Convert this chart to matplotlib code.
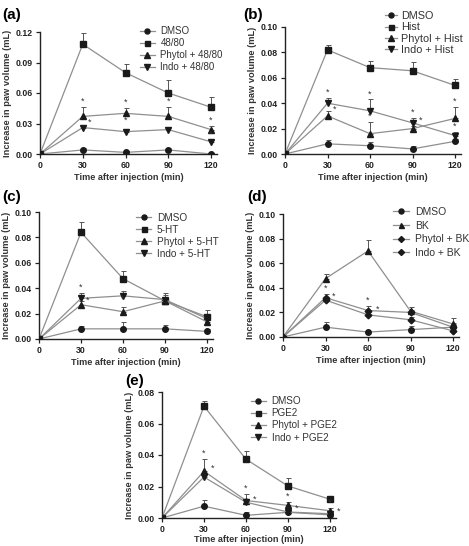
import matplotlib
matplotlib.use("Agg")
import matplotlib.pyplot as plt
import numpy as np

plt.rcParams['font.family'] = ['Liberation Sans', 'DejaVu Sans']

times = [0, 30, 60, 90, 120]
xticks = [0, 30, 60, 90, 120]
xlabel = "Time after injection (min)"
ylabel = "Increase in paw volume (mL)"

# ---- panel (a)
a_labels = ["DMSO", "48/80", "Phytol + 48/80", "Indo + 48/80"]
a_dmso = [0, 0.004, 0.0016, 0.004, 0.0]
a_dmso_err = [0, 0.002, 0.001, 0.002, 0.001]
a_drug = [0, 0.108, 0.080, 0.060, 0.046]
a_drug_err = [0, 0.011, 0.009, 0.013, 0.010]
a_phyt = [0, 0.037, 0.040, 0.037, 0.024]
a_phyt_err = [0, 0.009, 0.005, 0.009, 0.004]
a_indo = [0, 0.026, 0.022, 0.024, 0.012]
a_indo_err = [0, 0.003, 0.003, 0.003, 0.002]
a_yticks = [0.00, 0.03, 0.06, 0.09, 0.12]
a_yticklabels = ["0.00", "0.03", "0.06", "0.09", "0.12"]

# ---- panel (b)
b_labels = ["DMSO", "Hist", "Phytol + Hist", "Indo + Hist"]
b_dmso = [0, 0.008, 0.0065, 0.004, 0.010]
b_dmso_err = [0, 0.003, 0.003, 0.002, 0.002]
b_drug = [0, 0.082, 0.068, 0.0655, 0.054]
b_drug_err = [0, 0.004, 0.005, 0.007, 0.005]
b_phyt = [0, 0.030, 0.016, 0.020, 0.028]
b_phyt_err = [0, 0.004, 0.009, 0.002, 0.009]
b_indo = [0, 0.040, 0.034, 0.0245, 0.0145]
b_indo_err = [0, 0.004, 0.009, 0.004, 0.003]
b_yticks = [0.00, 0.02, 0.04, 0.06, 0.08, 0.10]
b_yticklabels = ["0.00", "0.02", "0.04", "0.06", "0.08", "0.10"]

# ---- panel (c)
c_labels = ["DMSO", "5-HT", "Phytol + 5-HT", "Indo + 5-HT"]
c_dmso = [0, 0.008, 0.008, 0.008, 0.006]
c_dmso_err = [0, 0.002, 0.005, 0.003, 0.002]
c_drug = [0, 0.084, 0.0475, 0.030, 0.0175]
c_drug_err = [0, 0.008, 0.006, 0.006, 0.005]
c_phyt = [0, 0.027, 0.0215, 0.030, 0.0135]
c_phyt_err = [0, 0.003, 0.004, 0.002, 0.003]
c_indo = [0, 0.032, 0.034, 0.031, 0.016]
c_indo_err = [0, 0.004, 0.004, 0.004, 0.003]
c_yticks = b_yticks
c_yticklabels = b_yticklabels

# ---- panel (d)
d_labels = ["DMSO", "BK", "Phytol + BK", "Indo + BK"]
d_dmso = [0, 0.008, 0.004, 0.006, 0.008]
d_dmso_err = [0, 0.004, 0.001, 0.003, 0.002]
d_drug = [0, 0.0475, 0.070, 0.021, 0.0106]
d_drug_err = [0, 0.004, 0.009, 0.003, 0.005]
d_phyt = [0, 0.032, 0.0215, 0.020, 0.008]
d_phyt_err = [0, 0.003, 0.004, 0.002, 0.003]
d_indo = [0, 0.030, 0.018, 0.014, 0.005]
d_indo_err = [0, 0.002, 0.002, 0.002, 0.002]
d_yticks = b_yticks
d_yticklabels = b_yticklabels

# ---- panel (e)
e_labels = ["DMSO", "PGE2", "Phytol + PGE2", "Indo + PGE2"]
e_dmso = [0, 0.0075, 0.0017, 0.0036, 0.002]
e_dmso_err = [0, 0.004, 0.002, 0.001, 0.001]
e_drug = [0, 0.071, 0.0373, 0.0203, 0.0119]
e_drug_err = [0, 0.003, 0.005, 0.005, 0.001]
e_phyt = [0, 0.0297, 0.0111, 0.008, 0.0046]
e_phyt_err = [0, 0.008, 0.004, 0.002, 0.002]
e_indo = [0, 0.026, 0.010, 0.0038, 0.0027]
e_indo_err = [0, 0.002, 0.002, 0.001, 0.001]
e_yticks = [0.00, 0.02, 0.04, 0.06, 0.08]
e_yticklabels = ["0.00", "0.02", "0.04", "0.06", "0.08"]

W, H = 469, 546
fig = plt.figure(figsize=(W / 100, H / 100), dpi=100)


def px_axes(x0, ytop, x120, ybot):
    width120 = x120 - x0
    wpx = width120 * 124 / 120
    return fig.add_axes([x0 / W, 1 - ybot / H, wpx / W, (ybot - ytop) / H])


LINE_C = "#8f8f8f"


def draw(ax, labels, series, errs, markers, ytop, yticks, yticklabels, leg_px,
         leg_fs, leg_sp, stars, letter, letter_xy, msizes, xlabelpad=2,
         hlen=1.5, hpad=0.6):
    handles = []
    for lab, ys, es, mk, ms in zip(labels, series, errs, markers, msizes):
        ax.errorbar(times, ys, yerr=[np.zeros(len(es)), es], fmt='none',
                    ecolor="#555555", elinewidth=0.7, capsize=1.8, capthick=0.7, zorder=2)
        h, = ax.plot(times, ys, color=LINE_C, lw=0.9, marker=mk, ms=ms,
                     mfc="#1a1a1a", mec="#1a1a1a", zorder=3, label=lab)
        handles.append(h)
    ax.set_xlim(0, 124)
    ax.set_ylim(0, ytop)
    ax.set_xticks(xticks)
    ax.set_yticks(yticks)
    ax.set_yticklabels(yticklabels)
    for s in ["top", "right"]:
        ax.spines[s].set_visible(False)
    for s in ["left", "bottom"]:
        ax.spines[s].set_linewidth(1.0)
        ax.spines[s].set_color("#222222")
    ax.tick_params(axis='both', labelsize=6.3, length=3, width=0.9, pad=2,
                   colors="#222222")
    for t in ax.get_xticklabels() + ax.get_yticklabels():
        t.set_fontweight('bold')
    ax.set_xlabel(xlabel, fontsize=6.6, fontweight='bold', color="#333333", labelpad=xlabelpad)
    ax.set_ylabel(ylabel, fontsize=6.7, fontweight='bold', color="#333333", labelpad=3)
    anchor = (leg_px[0] / W, 1 - leg_px[1] / H)
    leg = ax.legend(handles=handles, loc='upper left', bbox_to_anchor=anchor,
                    bbox_transform=fig.transFigure,
                    frameon=False, fontsize=leg_fs, handlelength=hlen, handletextpad=hpad,
                    labelspacing=leg_sp, borderaxespad=0, borderpad=0, markerscale=0.9)
    for t in leg.get_texts():
        t.set_color("#333333")
    for (x, y, dx, dy) in stars:
        ax.annotate("*", (x, y), xytext=(dx, dy), textcoords='offset points',
                    ha='center', va='center', fontsize=6.5, color="#333333")
    fig.text(letter_xy[0] / W, 1 - letter_xy[1] / H, letter, fontsize=11,
             fontweight='bold', ha='left', va='center')


def tops(vals, errs):
    return [v + e for v, e in zip(vals, errs)]


ms4 = [4, 4, 4.2, 4.2]

# (a)
ax = px_axes(40, 32, 211, 154)
pt = tops(a_phyt, a_phyt_err)
it = tops(a_indo, a_indo_err)
stars_a = [(30, pt[1], 0, 4), (30, a_indo[1], 5, 4), (60, pt[2], 0, 4), (60, a_indo[2], 0, 8),
           (90, pt[3], 0, 4), (120, pt[4], 0, 4), (120, it[4], 0, 4)]
draw(ax, a_labels, [a_dmso, a_drug, a_phyt, a_indo], [a_dmso_err, a_drug_err, a_phyt_err, a_indo_err],
     ['o', 's', '^', 'v'], 0.12, a_yticks, a_yticklabels, (140, 26), 7.0, 0.22,
     stars_a, "(a)", (2, 15), ms4)

# (b)
ax = px_axes(285, 27, 455, 154)
pt = tops(b_phyt, b_phyt_err)
it = tops(b_indo, b_indo_err)
stars_b = [(30, it[1], 0, 4), (30, b_phyt[1], 5, 5), (60, it[2], 0, 4), (60, pt[2], 0, 4),
           (90, it[3], 0, 4), (90, b_indo[3], 6, 2), (120, pt[4], 0, 4), (120, it[4], 0, 4)]
draw(ax, b_labels, [b_dmso, b_drug, b_phyt, b_indo], [b_dmso_err, b_drug_err, b_phyt_err, b_indo_err],
     ['o', 's', '^', 'v'], 0.10, b_yticks, b_yticklabels, (385, 11), 7.8, 0.12,
     stars_b, "(b)", (243, 15), ms4, hlen=1.1, hpad=0.4)

# (c)
ax = px_axes(39, 212, 207, 339)
it = tops(c_indo, c_indo_err)
stars_c = [(30, it[1], 0, 4), (30, c_phyt[1], 5, 3), (60, c_phyt[2], 0, 9)]
draw(ax, c_labels, [c_dmso, c_drug, c_phyt, c_indo], [c_dmso_err, c_drug_err, c_phyt_err, c_indo_err],
     ['o', 's', '^', 'v'], 0.10, c_yticks, c_yticklabels, (136, 213), 7.2, 0.2,
     stars_c, "(c)", (2, 197), ms4)

# (d)
ax = px_axes(283, 214, 453, 337)
pt = tops(d_phyt, d_phyt_err)
stars_d = [(30, pt[1], 0, 4), (30, d_phyt[1], 6, 1), (60, pt[2], 0, 4), (60, d_phyt[2], 7, 1)]
draw(ax, d_labels, [d_dmso, d_drug, d_phyt, d_indo], [d_dmso_err, d_drug_err, d_phyt_err, d_indo_err],
     ['o', '^', 'D', 'D'], 0.10, d_yticks, d_yticklabels, (393, 207), 7.5, 0.35,
     stars_d, "(d)", (247, 197), [4, 4, 3.4, 3.4])

# (e)
ax = px_axes(162, 392, 330, 518)
pt = tops(e_phyt, e_phyt_err)
stars_e = [(30, pt[1], 0, 4), (30, e_phyt[1], 6, 2), (60, pt[2], 0, 4), (60, e_phyt[2], 6, 1),
           (90, pt[3], 0, 4), (90, e_indo[3], 6, 3), (120, pt[4], 0, 4), (120, e_phyt[4], 6, 0)]
draw(ax, e_labels, [e_dmso, e_drug, e_phyt, e_indo], [e_dmso_err, e_drug_err, e_phyt_err, e_indo_err],
     ['o', 's', '^', 'v'], 0.08, e_yticks, e_yticklabels, (251, 396), 7.1, 0.22,
     stars_e, "(e)", (125, 381), ms4, xlabelpad=0.5)

fig.savefig("out.png", dpi=100)
